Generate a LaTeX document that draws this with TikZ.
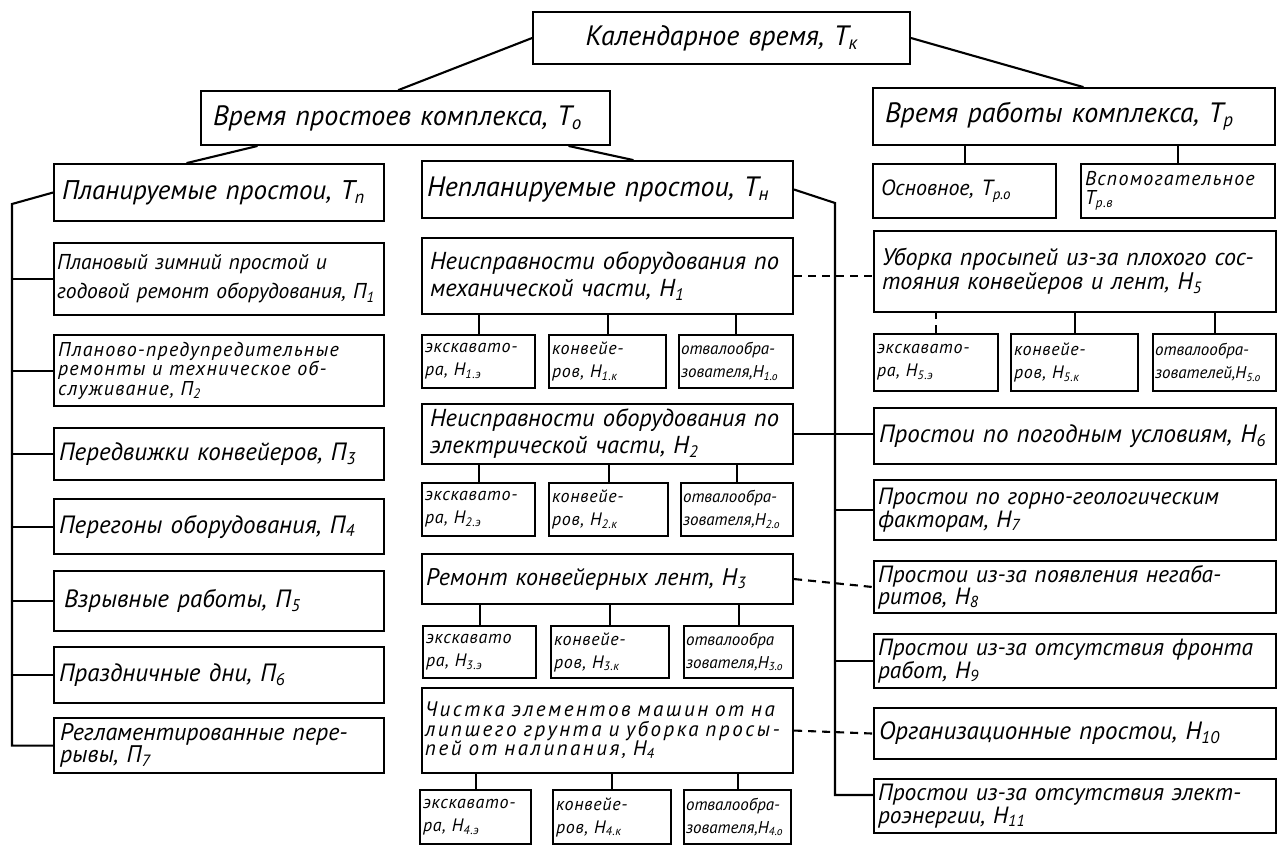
\documentclass[tikz,border=0pt]{standalone}
\usepackage{graphicx}
\usepackage{fontspec}
\setmainfont{PT Sans}[WordSpace=1.4]
\newfontfamily\lsfont{PT Sans}[WordSpace=1.3,LetterSpace=6]
\newfontfamily\lsxfont{PT Sans}[WordSpace=1.3,LetterSpace=12]
\newfontfamily\lssfont{PT Sans}[WordSpace=1.0,LetterSpace=4]
\newcommand\subtxt[1]{\raisebox{-0.3ex}{\scalebox{0.68}{#1}}}
\newcommand\bxx[8][6]{%
  \pgfmathsetmacro\bxw{#5-#3}%
  \pgfmathsetmacro\bxh{#6-#4}%
  \pgfmathsetmacro\bxt{#5-#3-2*#1}%
  \node[bx,#7,minimum width=\bxw pt,minimum height=\bxh pt,text width=\bxt pt] (#2) at (#3,#4) {#8};}
\tikzset{
  bx/.style={draw, line width=2.1pt, rectangle, anchor=north west, inner xsep=1pt, inner ysep=1pt, align=left},
  ln/.style={line width=2.1pt, line cap=round},
  dsh/.style={line width=2.1pt, dash pattern=on 8pt off 6pt},
  fC/.style={font=\fontsize{28}{30}\selectfont\itshape},
  fB/.style={font=\fontsize{28}{30}\selectfont\itshape},
  fBp/.style={font=\fontsize{27}{30}\selectfont\itshape},
  fO/.style={font=\fontsize{22}{26}\selectfont\itshape},
  fM/.style={font=\fontsize{25}{28}\selectfont\itshape},
  fH/.style={font=\fontsize{24.5}{27}\selectfont\itshape},
  fR/.style={font=\fontsize{24}{27}\selectfont\itshape},
  fP/.style={font=\fontsize{21.5}{29}\selectfont\itshape},
  fL/.style={font=\fontsize{24}{21}\selectfont\itshape},
  fD/.style={font=\fontsize{23.5}{21}\selectfont\itshape},
  fU/.style={font=\fontsize{24}{24}\selectfont\itshape},
  fT/.style={font=\lsfont\fontsize{20}{19.5}\selectfont\itshape},
  fX/.style={font=\lsxfont\fontsize{21}{19.5}\selectfont\itshape},
  fV/.style={font=\lsfont\fontsize{20}{19}\selectfont\itshape},
  fS/.style={font=\lssfont\fontsize{18}{23}\selectfont\itshape},
  fSc/.style={font=\fontsize{17}{23}\selectfont\itshape},
}
\begin{document}
\begin{tikzpicture}[x=1pt,y=-1pt]
\fill[white] (0,0) rectangle (1277,845);
\useasboundingbox (0,0) rectangle (1277,845);
% top levels
\bxx[14]{cal}{532}{11}{909}{63}{fC,align=center}{Календарное время, Т\subtxt{к}}
\bxx[12]{To}{200}{90}{609}{144}{fB}{Время простоев комплекса, Т\subtxt{о}}
\bxx[12]{Tr}{872}{87}{1274}{144}{fB}{Время работы комплекса, Т\subtxt{р}}
\bxx[8]{Tp}{53}{163}{383}{220}{fBp}{Планируемые простои, Т\subtxt{п}}
\bxx[5]{Tn}{421}{160}{792}{217}{fB}{Непланируемые простои, Т\subtxt{н}}
\bxx[8]{Tro}{872}{163}{1055}{217}{fO}{Основное, Т\subtxt{р.о}}
\bxx[4]{Trv}{1080}{163}{1274}{217}{fV}{Вспомогательное\\Т\subtxt{р.в}}
% planned
\bxx[3]{P1}{53}{242}{383}{314}{fP}{Плановый зимний простой и\\годовой ремонт оборудования, П\subtxt{1}}
\bxx[4]{P2}{53}{334}{383}{405}{fT}{Планово-предупредительные\\ремонты и техническое об-\\служивание, П\subtxt{2}}
\bxx[5]{P3}{53}{427}{383}{479}{fM}{Передвижки конвейеров, П\subtxt{3}}
\bxx[5]{P4}{53}{498}{383}{553}{fM}{Перегоны оборудования, П\subtxt{4}}
\bxx[10]{P5}{53}{570}{383}{630}{fM}{Взрывные работы, П\subtxt{5}}
\bxx[5]{P6}{53}{646}{383}{702}{fM}{Праздничные дни, П\subtxt{6}}
\bxx[6]{P7}{53}{717}{383}{772}{fL}{Регламентированные пере-\\рывы, П\subtxt{7}}
% unplanned, middle column
\bxx[8]{H1}{421}{237}{792}{313}{fH}{Неисправности оборудования по\\механической части, Н\subtxt{1}}
\bxx[3]{H1a}{421}{334}{534}{387}{fS}{экскавато-\\ра, Н\subtxt{1.э}}
\bxx[3]{H1b}{548}{334}{665}{387}{fS}{конвейе-\\ров, Н\subtxt{1.к}}
\bxx[2]{H1c}{678}{334}{792}{387}{fSc}{отвалообра-\\зователя,Н\subtxt{1.о}}
\bxx[8]{H2}{421}{403}{792}{463}{fH}{Неисправности оборудования по\\электрической части, Н\subtxt{2}}
\bxx[3]{H2a}{421}{482}{534}{535}{fS}{экскавато-\\ра, Н\subtxt{2.э}}
\bxx[3]{H2b}{548}{482}{667}{535}{fS}{конвейе-\\ров, Н\subtxt{2.к}}
\bxx[2]{H2c}{680}{482}{792}{535}{fSc}{отвалообра-\\зователя,Н\subtxt{2.о}}
\bxx[4]{H3}{421}{553}{792}{603}{fR}{Ремонт конвейерных лент, Н\subtxt{3}}
\bxx[3]{H3a}{422}{625}{535}{677}{fS}{экскавато\\ра, Н\subtxt{3.э}}
\bxx[3]{H3b}{550}{625}{668}{677}{fS}{конвейе-\\ров, Н\subtxt{3.к}}
\bxx[2]{H3c}{683}{625}{792}{677}{fSc}{отвалообра\\зователя,Н\subtxt{3.о}}
\bxx[3]{H4}{421}{687}{792}{772}{fX}{Чистка элементов машин от на\\липшего грунта и уборка просы-\\пей от налипания, Н\subtxt{4}}
\bxx[3]{H4a}{419}{789}{530}{843}{fS}{экскавато-\\ра, Н\subtxt{4.э}}
\bxx[3]{H4b}{552}{789}{670}{843}{fS}{конвейе-\\ров, Н\subtxt{4.к}}
\bxx[2]{H4c}{683}{789}{790}{843}{fSc}{отвалообра-\\зователя,Н\subtxt{4.о}}
% right column
\bxx[8]{H5}{873}{230}{1275}{311}{fU}{Уборка просыпей из-за плохого сос-\\тояния конвейеров и лент, Н\subtxt{5}}
\bxx[3]{H5a}{873}{333}{997}{390}{fS}{экскавато-\\ра, Н\subtxt{5.э}}
\bxx[3]{H5b}{1010}{333}{1137}{390}{fS}{конвейе-\\ров, Н\subtxt{5.к}}
\bxx[2]{H5c}{1152}{333}{1275}{390}{fSc}{отвалообра-\\зователей,Н\subtxt{5.о}}
\bxx[5]{H6}{873}{407}{1275}{463}{fM}{Простои по погодным условиям, Н\subtxt{6}}
\bxx[4]{H7}{873}{479}{1275}{539}{fD}{Простои по горно-геологическим\\факторам, Н\subtxt{7}}
\bxx[4]{H8}{873}{560}{1275}{612}{fD}{Простои из-за появления негаба-\\ритов, Н\subtxt{8}}
\bxx[4]{H9}{873}{633}{1275}{687}{fD}{Простои из-за отсутствия фронта\\работ, Н\subtxt{9}}
\bxx[5]{H10}{873}{707}{1275}{758}{fM}{Организационные простои, Н\subtxt{10}}
\bxx[4]{H11}{873}{778}{1275}{832}{fD}{Простои из-за отсутствия элект-\\роэнергии, Н\subtxt{11}}
% top connectors
\draw[ln] (cal.west) -- ([xshift=-7pt]To.north);
\draw[ln] (cal.east) -- ([xshift=9pt]Tr.north);
\draw[ln] ([xshift=57pt]To.south west) -- ([xshift=134pt]Tp.north west);
\draw[ln] ([xshift=-42pt]To.south east) -- ([xshift=212pt]Tn.north west);
\draw[ln] (Tro.north) -- (Tro.north |- Tr.south);
\draw[ln] (Trv.north) -- (Trv.north |- Tr.south);
% left bus
\coordinate (bL) at (12,204);
\draw[ln] (Tp.west) -- (bL) -- (bL |- P7.west) -- (P7.west);
\foreach \p in {P1,P2,P3,P4,P5,P6} {\draw[ln] (\p.west) -- (\p.west -| bL);}
% right bus
\coordinate (bR) at (835,203);
\coordinate (bRe) at (835,795);
\draw[ln] (Tn.east) -- (bR) -- (bRe) -- (bRe -| H11.west);
\foreach \p in {H7,H9} {\draw[ln] (\p.west) -- (\p.west -| bR);}
\draw[dsh] (H1.east) -- (H1.east -| H5.west);
\draw[ln] (H2.east) -- (H2.east -| H6.west);
\draw[dsh] (H3.east) -- (H8.west);
\draw[dsh] (H4.east) -- (H10.west);
% sub-box connectors
\foreach \p in {H1,H2,H3,H4} {\foreach \s in {a,b,c} {\draw[ln] (\p\s.north) -- (\p\s.north |- \p.south);}}
\draw[dsh] (H5a.north) -- (H5a.north |- H5.south);
\draw[ln] (H5b.north) -- (H5b.north |- H5.south);
\draw[ln] (H5c.north) -- (H5c.north |- H5.south);
\end{tikzpicture}
\end{document}
